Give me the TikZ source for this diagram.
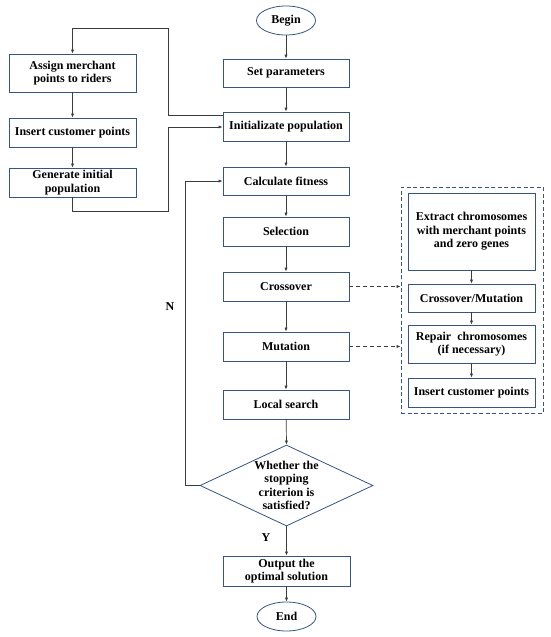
\documentclass[tikz,border=0pt]{standalone}
\usepackage{fontspec}
\setmainfont{Liberation Serif}
\usetikzlibrary{shapes.geometric,arrows.meta}
\definecolor{bord}{RGB}{56,84,128}
\definecolor{ln}{RGB}{60,60,60}
\tikzset{
  pbox/.style={draw=bord, line width=0.8pt, fill=white, minimum width=126pt, minimum height=28pt, align=center, font=\bfseries\fontsize{12}{13.5}\selectfont, inner sep=1pt},
  term/.style={draw=bord, line width=0.8pt, ellipse, minimum width=59pt, minimum height=29pt, font=\bfseries\fontsize{12}{13.5}\selectfont, inner sep=0pt},
  dec/.style={draw=bord, line width=0.8pt, diamond, minimum width=173pt, minimum height=81pt, inner sep=0pt},
  dectext/.style={align=center, font=\bfseries\fontsize{12}{13.5}\selectfont, inner sep=0pt},
  arr/.style={draw=ln, line width=0.7pt, -{Latex[length=4pt,width=3.2pt]}},
  darr/.style={draw=ln, line width=0.7pt, dashed, dash pattern=on 4pt off 3pt, -{Latex[length=4pt,width=3.2pt]}},
  lab/.style={font=\bfseries\fontsize{12}{13.5}\selectfont}
}
\begin{document}
\begin{tikzpicture}[x=1pt,y=-1pt]
\useasboundingbox (0,0) rectangle (550,637);
% main column
\node[term] (begin) at (286,20.5) {Begin};
\node[pbox] (setp) at (286,73) {Set parameters};
\node[pbox, minimum height=29pt] (init) at (286,126.5) {Initializate population};
\node[pbox] (fit) at (286,181) {Calculate fitness};
\node[pbox, minimum height=29pt] (sel) at (286,231.5) {Selection};
\node[pbox, minimum height=29pt] (cross) at (286,286.5) {Crossover};
\node[pbox, minimum height=29pt] (mut) at (286,346.5) {Mutation};
\node[pbox, minimum height=29pt] (ls) at (286,404.5) {Local search};
\node[dec] (stop) at (286.5,485.5) {};
\node[dectext] (stoptxt) at (stop.center) {Whether the\\stopping\\criterion is\\satisfied?};
\node[pbox, minimum width=127pt, minimum height=30pt] (out) at (286.5,571) {Output the\\optimal solution};
\node[term] (end) at (286.5,616.5) {End};
% left column
\node[pbox, minimum width=127pt, minimum height=38pt] (assign) at (72.5,73) {Assign merchant\\points to riders};
\node[pbox, minimum width=127pt, minimum height=29pt] (insl) at (72.5,132.5) {Insert customer points};
\node[pbox, minimum width=127pt, minimum height=29pt] (gen) at (72.5,182.5) {Generate initial\\population};
% right dashed group
\node[draw=bord, line width=0.8pt, dashed, dash pattern=on 4pt off 2.5pt, minimum width=142pt, minimum height=226pt, inner sep=0pt] (grp) at (472,300) {};
\node[pbox, minimum width=127pt, minimum height=77pt] (extr) at (471.5,231.5) {Extract chromosomes\\with merchant points\\and zero genes};
\node[pbox, minimum width=127pt, minimum height=28pt] (cm) at (471.5,298) {Crossover/Mutation};
\node[pbox, minimum width=127pt, minimum height=38pt] (rep) at (471.5,344) {Repair\ \ chromosomes\\(if necessary)};
\node[pbox, minimum width=127pt, minimum height=29pt] (insr) at (471.5,392.5) {Insert customer points};
% main arrows
\draw[arr] (begin) -- (setp);
\draw[arr] (setp) -- (init);
\draw[arr] (init) -- (fit);
\draw[arr] (fit) -- (sel);
\draw[arr] (sel) -- (cross);
\draw[arr] (cross) -- (mut);
\draw[arr] (mut) -- (ls);
\draw[arr] (ls) -- (stop.north);
\draw[arr] (stop.south) -- (out);
\draw[arr] (out) -- (end);
% left arrows
\draw[arr] (assign) -- (insl);
\draw[arr] (insl) -- (gen);
\coordinate (a1) at (168,115);
\coordinate (a2) at (168,28);
\coordinate (a3) at (72.5,28);
\draw[arr] (init.west |- a1) -- (a1) -- (a2) -- (a3) -- (assign.north);
\coordinate (g1) at (72.5,211);
\coordinate (g2) at (168,211);
\coordinate (g3) at (168,127);
\draw[arr] (gen.south) -- (g1) -- (g2) -- (g3) -- (init.west |- g3);
% loop N
\coordinate (n1) at (185,485.5);
\coordinate (n2) at (185,181);
\draw[arr] (stop.west) -- (n1) -- (n2) -- (fit.west);
\node[lab] (nlab) at (170,307) {N};
\node[lab] (ylab) at (266,538) {Y};
% right arrows
\draw[arr] (extr) -- (cm);
\draw[arr] (cm) -- (rep);
\draw[arr] (rep) -- (insr);
\draw[darr] (cross.east) -- (grp.west |- cross.east);
\draw[darr] (mut.east) -- (grp.west |- mut.east);
\end{tikzpicture}
\end{document}
